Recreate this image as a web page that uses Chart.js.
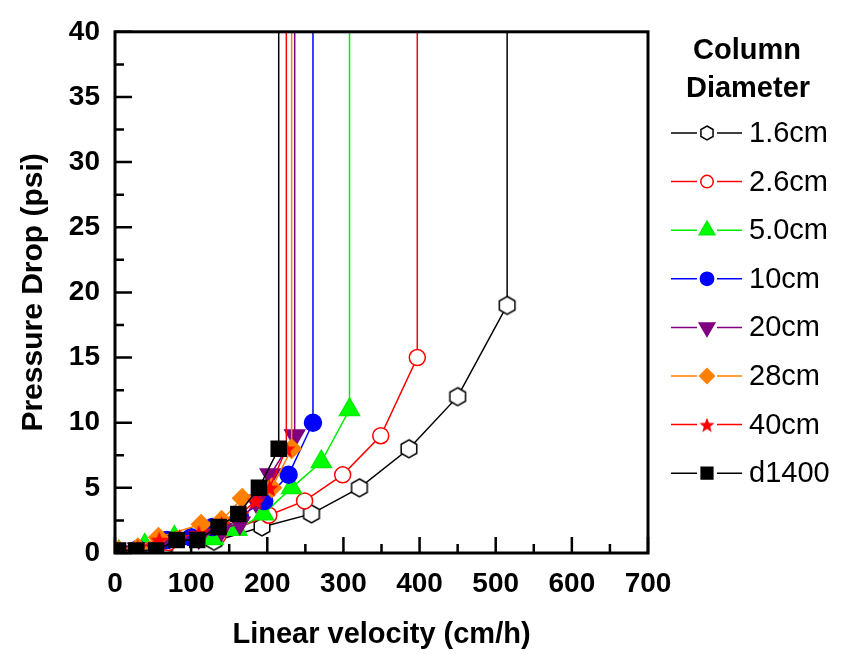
<!DOCTYPE html>
<html>
<head>
<meta charset="utf-8">
<script src="https://cdn.jsdelivr.net/npm/chart.js@4.4.0/dist/chart.umd.min.js"></script>
<style>
  html, body { margin: 0; padding: 0; background: #fff; }
</style>
</head>
<body>
<canvas id="myChart" width="850" height="654"></canvas>
<script>
// column diameters (legend)
const diameters = ["1.6cm", "2.6cm", "5.0cm", "10cm", "20cm", "28cm", "40cm", "d1400"];

// linear velocity (cm/h) and pressure drop (psi) per column
const velocity16 = [5, 35, 65, 130, 193, 258, 321, 386, 450, 515];
const drop16 = [0.1, 0.2, 0.5, 0.9, 2, 3, 5, 8, 12, 19];

const velocity26 = [5, 35, 70, 135, 202, 249, 299, 349, 397];
const drop26 = [0.1, 0.3, 0.8, 1.3, 2.9, 4, 6, 9, 15];

const velocity50 = [5, 39, 78, 129, 160, 195, 232, 271, 308];
const drop50 = [0.1, 0.6, 1.2, 1.1, 1.8, 3, 5, 7, 11];

const velocity10 = [5, 30, 68, 100, 128, 164, 196, 228, 260];
const drop10 = [0.1, 0.3, 1, 1.2, 2, 2.8, 4, 6, 10];

const velocity20 = [5, 30, 60, 110, 140, 164, 185, 204, 236];
const drop20 = [0.1, 0.3, 0.8, 1.2, 1.8, 2.3, 4, 6, 9];

const velocity28 = [5, 30, 57, 113, 140, 167, 206, 232];
const drop28 = [0.2, 0.4, 1.2, 2.2, 2.5, 4.2, 5, 8];

const velocity40 = [5, 30, 58, 85, 110, 140, 165, 185, 203, 225];
const drop40 = [0.1, 0.4, 1, 1.2, 1.5, 2.2, 3, 4, 5, 8];

const velocityD = [4, 28, 54, 81, 108, 136, 162, 189, 215];
const dropD = [0.2, 0.2, 0.2, 1, 1, 2, 3, 5, 8];

// pressure past the top of the axis (bed collapse)
const offScale = 50;

// axis ticks
const xTicks = [0, 100, 200, 300, 400, 500, 600, 700];
const yTicks = [0, 5, 10, 15, 20, 25, 30, 35, 40];

const FONT = "'Liberation Sans', Arial, sans-serif";

function makeHex(r) {
  const s = Math.ceil(2 * r + 4);
  const c = document.createElement("canvas");
  c.width = s;
  c.height = s;
  const g = c.getContext("2d");
  g.beginPath();
  for (let i = 0; i < 6; i++) {
    const a = -Math.PI / 2 + (i * Math.PI) / 3;
    g.lineTo(s / 2 + r * Math.cos(a), s / 2 + r * Math.sin(a));
  }
  g.closePath();
  g.fillStyle = "#fff";
  g.fill();
  g.lineWidth = 1.5;
  g.strokeStyle = "#000";
  g.stroke();
  return c;
}

function makeStar(r) {
  const s = Math.ceil(2 * r + 2);
  const c = document.createElement("canvas");
  c.width = s;
  c.height = s;
  const g = c.getContext("2d");
  g.beginPath();
  for (let i = 0; i < 10; i++) {
    const a = -Math.PI / 2 + (i * Math.PI) / 5;
    const rr = i % 2 === 0 ? r : r * 0.42;
    g.lineTo(s / 2 + rr * Math.cos(a), s / 2 + 1 + rr * Math.sin(a));
  }
  g.closePath();
  g.fillStyle = "#ff0000";
  g.fill();
  return c;
}

function series(vel, drop) {
  const pts = vel.map((v, i) => ({ x: v, y: drop[i] }));
  pts.push({ x: vel[vel.length - 1], y: offScale });
  return pts;
}

function hideOff(r) {
  return (ctx) => (ctx.raw && ctx.raw.y > 40 ? 0 : r);
}

const datasets = [
  { label: diameters[0], data: series(velocity16, drop16), borderColor: "#000000", pointBackgroundColor: "#ffffff",
    pointStyle: makeHex(9), legendStyle: makeHex(7), r: 8 },
  { label: diameters[1], data: series(velocity26, drop26), borderColor: "#ff0000", pointBackgroundColor: "#ffffff",
    pointStyle: "circle", r: 8 },
  { label: diameters[2], data: series(velocity50, drop50), borderColor: "#00ee00", pointBackgroundColor: "#00ff00",
    pointStyle: "triangle", r: 11.5 },
  { label: diameters[3], data: series(velocity10, drop10), borderColor: "#0000ff", pointBackgroundColor: "#0000ff",
    pointStyle: "circle", r: 8.5 },
  { label: diameters[4], data: series(velocity20, drop20), borderColor: "#800080", pointBackgroundColor: "#800080",
    pointStyle: "triangle", pointRotation: 180, r: 11.5 },
  { label: diameters[5], data: series(velocity28, drop28), borderColor: "#ff8000", pointBackgroundColor: "#ff8000",
    pointStyle: "rectRot", r: 9.5 },
  { label: diameters[6], data: series(velocity40, drop40), borderColor: "#ff0000", pointBackgroundColor: "#ff0000",
    pointStyle: makeStar(9.5), legendStyle: makeStar(8), r: 9 },
  { label: diameters[7], data: series(velocityD, dropD), borderColor: "#000000", pointBackgroundColor: "#000000",
    pointStyle: "rect", r: 10.6 },
];

datasets.forEach((ds, i) => {
  ds.borderWidth = 1.5;
  ds.pointBorderColor = ds.borderColor;
  ds.pointBorderWidth = 1.5;
  ds.pointRadius = hideOff(ds.r);
  ds.pointHoverRadius = hideOff(ds.r);
  ds.pointRotation = ds.pointRotation || 0;
  ds.tension = 0;
  ds.order = datasets.length - i;
});

// frame + inward ticks
const frameTicks = {
  id: "frameTicks",
  afterDatasetsDraw(chart) {
    const { ctx, chartArea: a, scales } = chart;
    ctx.save();
    ctx.strokeStyle = "#000";
    ctx.lineWidth = 2.5;
    ctx.beginPath();
    for (let v = 0; v <= 700; v += 50) {
      const px = scales.x.getPixelForValue(v);
      const len = v % 100 === 0 ? 16 : 9;
      ctx.moveTo(px, a.bottom);
      ctx.lineTo(px, a.bottom - len);
    }
    for (let v = 0; v <= 40; v += 2.5) {
      const py = scales.y.getPixelForValue(v);
      const len = v % 5 === 0 ? 17 : 9;
      ctx.moveTo(a.left, py);
      ctx.lineTo(a.left + len, py);
    }
    ctx.stroke();
    ctx.lineWidth = 3;
    ctx.strokeRect(a.left, a.top, a.right - a.left, a.bottom - a.top);
    ctx.restore();
  },
};

// legend on the right: line - marker - line, then label
const sideLegend = {
  id: "sideLegend",
  afterDraw(chart) {
    const ctx = chart.ctx;
    ctx.save();
    ctx.fillStyle = "#000";
    ctx.textAlign = "center";
    ctx.textBaseline = "middle";
    ctx.font = "bold 29px " + FONT;
    ctx.fillText("Column", 747, 51);
    ctx.fillText("Diameter", 748, 89);
    chart.data.datasets.forEach((ds, i) => {
      const y = 133 + i * 48.6;
      const mx = 707;
      ctx.strokeStyle = ds.borderColor;
      ctx.lineWidth = 1.5;
      ctx.beginPath();
      ctx.moveTo(671, y);
      ctx.lineTo(697, y);
      ctx.moveTo(717, y);
      ctx.lineTo(742, y);
      ctx.stroke();
      ctx.fillStyle = ds.pointBackgroundColor;
      Chart.helpers.drawPoint(ctx, {
        pointStyle: ds.legendStyle || ds.pointStyle,
        rotation: ds.pointRotation,
        radius: ds.r * 0.78,
        borderWidth: 1.5,
      }, mx, y);
      ctx.fillStyle = "#000";
      ctx.textAlign = "left";
      ctx.font = "29px " + FONT;
      ctx.fillText(ds.label, 749, y + 1);
    });
    ctx.restore();
  },
};

new Chart(document.getElementById("myChart"), {
  type: "line",
  data: { datasets: datasets },
  plugins: [frameTicks, sideLegend],
  options: {
    responsive: false,
    animation: false,
    devicePixelRatio: 1,
    layout: { padding: { left: 0, top: 21, right: 202, bottom: 0 } },
    plugins: {
      legend: { display: false },
      tooltip: { enabled: false },
    },
    scales: {
      x: {
        type: "linear",
        min: 0,
        max: 700,
        afterFit(scale) { scale.height = 101; },
        afterBuildTicks(scale) { scale.ticks = xTicks.map((v) => ({ value: v })); },
        grid: { display: false, drawTicks: false },
        border: { display: false },
        ticks: { color: "#000", padding: 14, font: { family: FONT, size: 28, weight: "bold" } },
        title: {
          display: true,
          text: "Linear velocity (cm/h)",
          color: "#000",
          padding: { top: 0, bottom: 2 },
          font: { family: FONT, size: 29, weight: "bold" },
        },
      },
      y: {
        type: "linear",
        min: 0,
        max: 40,
        afterFit(scale) { scale.width = 115; },
        afterBuildTicks(scale) { scale.ticks = yTicks.map((v) => ({ value: v })); },
        grid: { display: false, drawTicks: false },
        border: { display: false },
        ticks: { color: "#000", padding: 15, font: { family: FONT, size: 28, weight: "bold" } },
        title: {
          display: true,
          text: "Pressure Drop (psi)",
          color: "#000",
          padding: { top: 16, bottom: 0 },
          font: { family: FONT, size: 30, weight: "bold" },
        },
      },
    },
  },
});
</script>
</body>
</html>
